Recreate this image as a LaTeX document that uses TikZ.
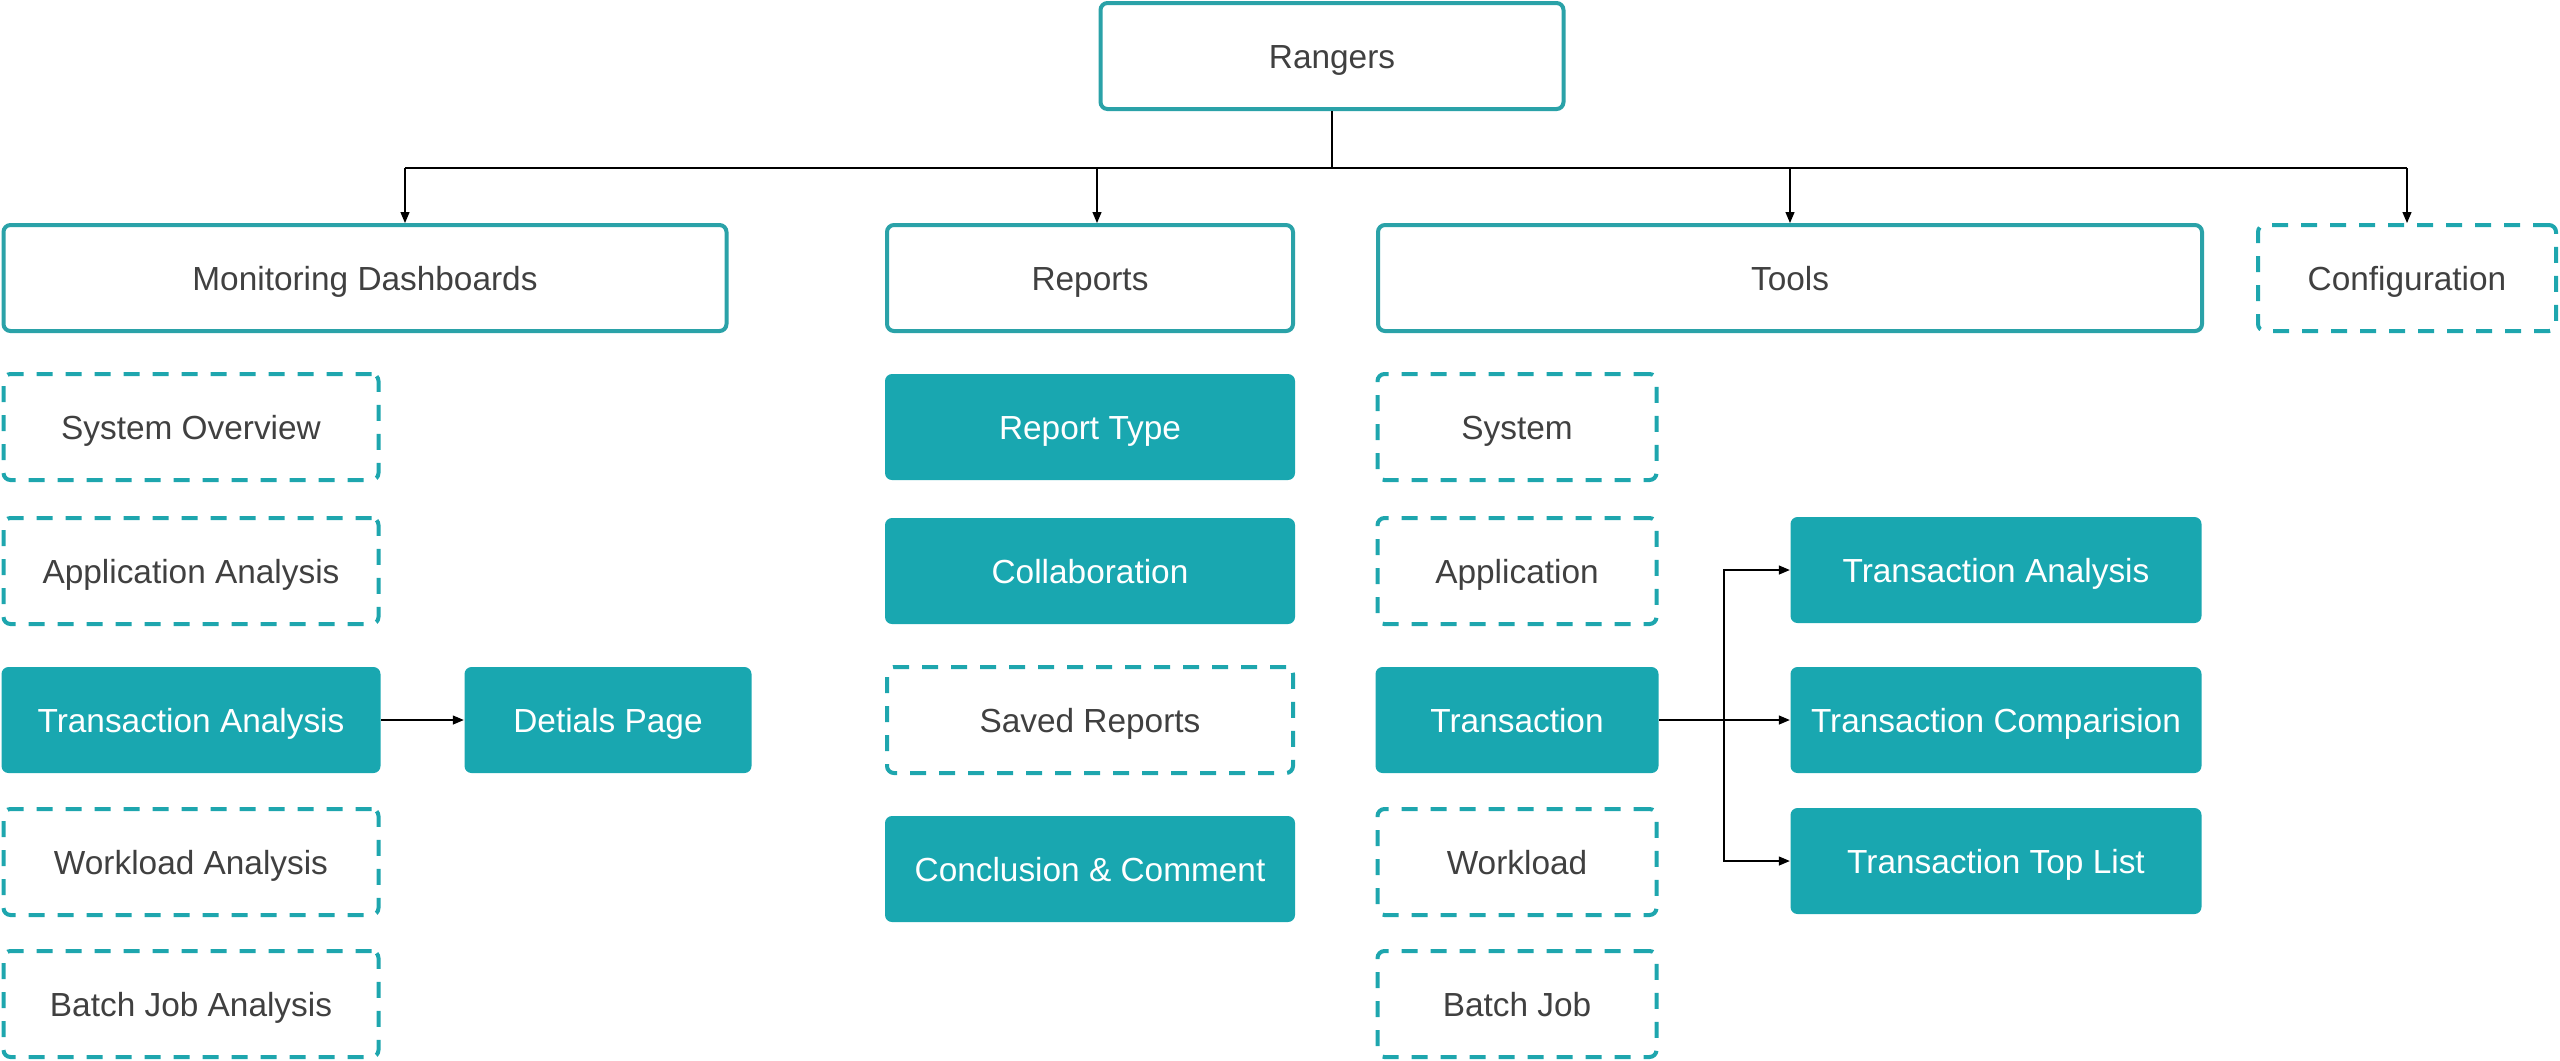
\documentclass[tikz,border=0pt]{standalone}
\usepackage{fontspec}
\setmainfont{Liberation Sans}
\usepackage{tikz}
\usetikzlibrary{arrows.meta}

\definecolor{teal1}{HTML}{19A7B0}
\definecolor{tealline}{HTML}{2AA2A8}
\definecolor{tealdash}{HTML}{1EA6AE}
\definecolor{textgray}{HTML}{404040}

\begin{document}
\begin{tikzpicture}[x=0.1mm, y=-0.1mm,
  box/.style={rectangle, rounded corners=0.7mm, inner sep=0pt, minimum height=10.6mm,
    text height=6.9pt, text depth=0pt, font=\fontsize{9.5pt}{11pt}\selectfont},
  solidbox/.style={box, draw=tealline, line width=0.4mm, text=textgray},
  dashbox/.style={box, draw=tealdash, line width=0.4mm, dash pattern=on 1.6mm off 1.3mm, text=textgray},
  fillbox/.style={box, fill=teal1, text=white},
  link/.style={black, line width=0.35pt},
  arrow/.style={link, -{Triangle[length=1.1mm, width=0.9mm]}}]

\useasboundingbox (0,0) rectangle (2560,1060);

% top level
\node[solidbox, minimum width=46.3mm] (rangers) at (1332,56) {Rangers};

\node[solidbox, minimum width=72.3mm] (mon) at (365,278) {Monitoring Dashboards};
\node[solidbox, minimum width=40.6mm] (rep) at (1090,278) {Reports};
\node[solidbox, minimum width=82.4mm] (tools) at (1790,278) {Tools};
\node[dashbox, minimum width=29.8mm] (conf) at (2407,278) {Configuration};

% monitoring dashboards
\node[dashbox, minimum width=37.5mm] (sysov) at (191,427) {System Overview};
\node[dashbox, minimum width=37.5mm] (appan) at (191,571) {Application Analysis};
\node[fillbox, minimum width=37.9mm] (tranan) at (191,720) {Transaction Analysis};
\node[dashbox, minimum width=37.5mm] (workan) at (191,862) {Workload Analysis};
\node[dashbox, minimum width=37.5mm] (batchan) at (191,1004) {Batch Job Analysis};

\node[fillbox, minimum width=28.7mm] (det) at (608,720) {Detials Page};

% reports
\node[fillbox, minimum width=41mm] (rtype) at (1090,427) {Report Type};
\node[fillbox, minimum width=41mm] (collab) at (1090,571) {Collaboration};
\node[dashbox, minimum width=40.6mm] (saved) at (1090,720) {Saved Reports};
\node[fillbox, minimum width=41mm] (concl) at (1090,869) {Conclusion \& Comment};

% tools
\node[dashbox, minimum width=27.9mm] (sys) at (1517,427) {System};
\node[dashbox, minimum width=27.9mm] (app) at (1517,571) {Application};
\node[fillbox, minimum width=28.3mm] (trans) at (1517,720) {Transaction};
\node[dashbox, minimum width=27.9mm] (work) at (1517,862) {Workload};
\node[dashbox, minimum width=27.9mm] (batch) at (1517,1004) {Batch Job};

\node[fillbox, minimum width=41.1mm] (ta) at (1996,570) {Transaction Analysis};
\node[fillbox, minimum width=41.1mm] (tc) at (1996,720) {Transaction Comparision};
\node[fillbox, minimum width=41.1mm] (ttl) at (1996,861) {Transaction Top List};

% connectors
\coordinate (busL) at (405,168);
\coordinate (busR) at (2407,168);
\coordinate (busrep) at (1097,168);
\coordinate (split) at (1724,720);

\draw[link] (rangers.south) -- (rangers.south |- busL);
\draw[link] (busL) -- (busR);
\draw[arrow] (busL) -- (busL |- mon.north);
\draw[arrow] (busrep) -- (busrep |- rep.north);
\draw[arrow] (tools.north |- busL) -- (tools.north);
\draw[arrow] (busR) -- (conf.north);

\draw[arrow] (tranan.east) -- (det.west);

\draw[link] (trans.east) -- (split);
\draw[arrow] (split) |- (ta.west);
\draw[arrow] (split) -- (tc.west);
\draw[arrow] (split) |- (ttl.west);

\end{tikzpicture}
\end{document}
